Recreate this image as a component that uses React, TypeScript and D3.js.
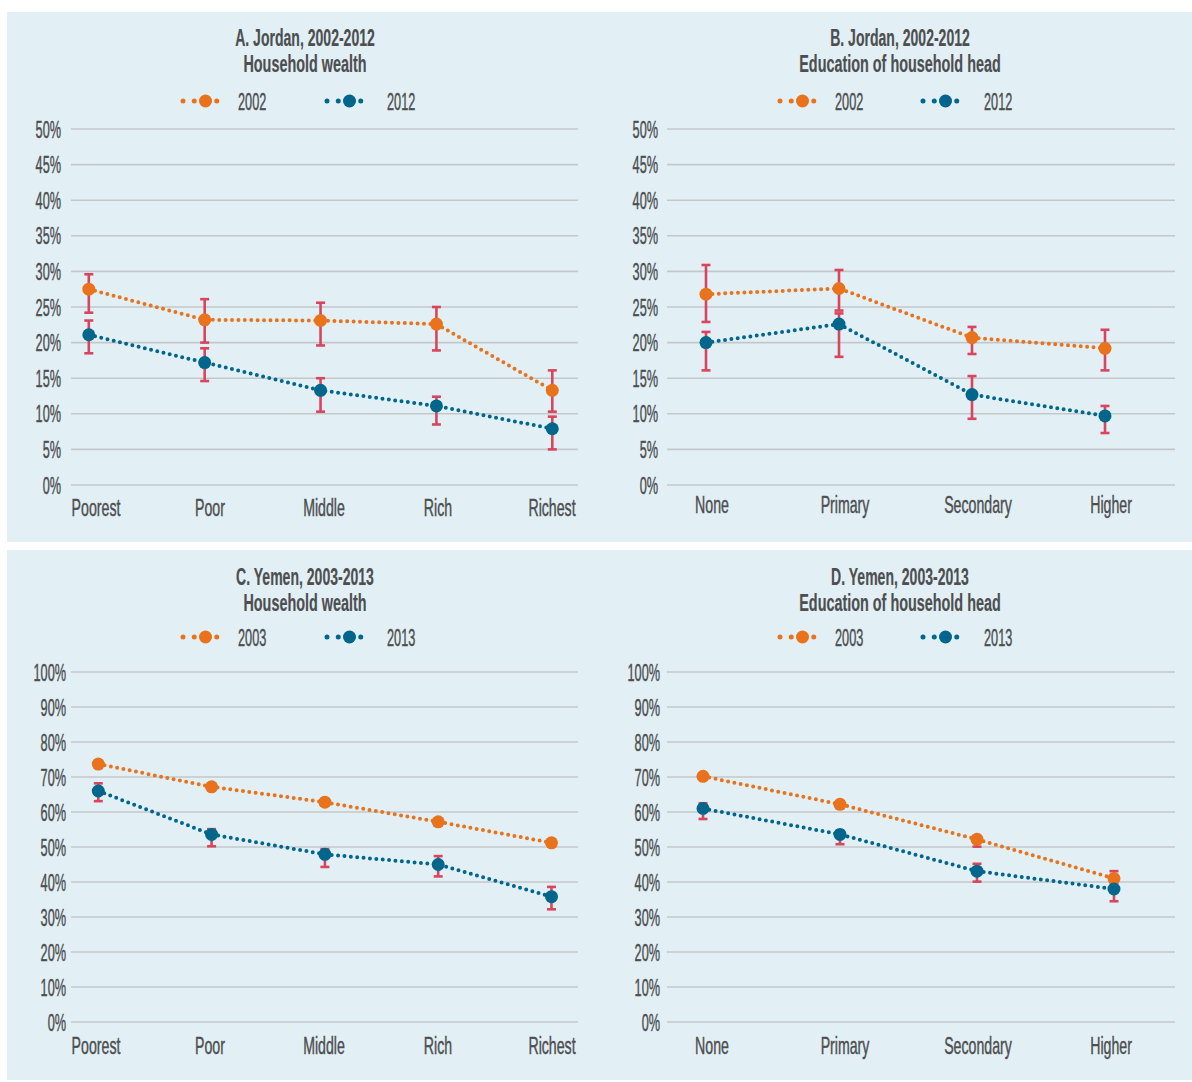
import React from "react";
import * as d3 from "d3";

// ---------- data ----------
const wealthCats = ["Poorest", "Poor", "Middle", "Rich", "Richest"];
const eduCats = ["None", "Primary", "Secondary", "Higher"];

const jordanYTicks = [0, 5, 10, 15, 20, 25, 30, 35, 40, 45, 50];
const yemenYTicks = [0, 10, 20, 30, 40, 50, 60, 70, 80, 90, 100];

const jordanYears = ["2002", "2012"];
const yemenYears = ["2003", "2013"];

const jordanWealth2002 = [27.5, 23.2, 23.1, 22.6, 13.3];
const jordanWealth2002Lo = [24.2, 20.0, 19.6, 18.9, 10.3];
const jordanWealth2002Hi = [29.6, 26.1, 25.6, 25.0, 16.1];
const jordanWealth2012 = [21.1, 17.2, 13.3, 11.1, 7.9];
const jordanWealth2012Lo = [18.5, 14.6, 10.3, 8.5, 5.0];
const jordanWealth2012Hi = [23.1, 19.2, 15.0, 12.4, 9.6];

const jordanEdu2002 = [26.8, 27.6, 20.7, 19.2];
const jordanEdu2002Lo = [22.9, 24.5, 18.4, 16.1];
const jordanEdu2002Hi = [30.9, 30.2, 22.2, 21.8];
const jordanEdu2012 = [20.0, 22.6, 12.7, 9.7];
const jordanEdu2012Lo = [16.1, 18.0, 9.3, 7.3];
const jordanEdu2012Hi = [21.5, 24.1, 15.3, 11.1];

const yemenWealth2003 = [73.7, 67.2, 62.8, 57.2, 51.2];
const yemenWealth2003Lo = [72.6, 66.2, 61.8, 56.1, 50.1];
const yemenWealth2003Hi = [74.6, 68.0, 63.6, 58.0, 52.0];
const yemenWealth2013 = [66.0, 53.6, 47.9, 45.0, 35.8];
const yemenWealth2013Lo = [63.1, 50.2, 44.3, 41.6, 32.2];
const yemenWealth2013Hi = [68.2, 55.1, 49.4, 47.4, 38.6];

const yemenEdu2003 = [70.2, 62.2, 52.2, 41.0];
const yemenEdu2003Lo = [69.4, 61.1, 50.1, 39.8];
const yemenEdu2003Hi = [70.8, 62.9, 53.1, 43.1];
const yemenEdu2013 = [61.0, 53.6, 43.1, 38.0];
const yemenEdu2013Lo = [58.0, 50.8, 40.1, 34.5];
const yemenEdu2013Hi = [62.5, 54.6, 45.2, 40.3];

// ---------- style ----------
const BG = "#e2f0f5";
const GRID = "#c3c7c9";
const ORANGE = "#e8731c";
const BLUE = "#00668c";
const ERR = "#d8455d";
const TEXT = "#4d4e50";
const FONT = "'Liberation Sans','Arial',sans-serif";

function T({ x, y, anchor = "middle", size = 24, weight = 400, sx = 0.59, children }: any) {
  return (
    <text
      transform={`translate(${x},${y}) scale(${sx},1)`}
      textAnchor={anchor}
      fontSize={size}
      fontWeight={weight}
      fontFamily={FONT}
      fill={TEXT}
      stroke={TEXT}
      strokeWidth={weight >= 700 ? 0.2 : 0.45}
    >
      {children}
    </text>
  );
}

type Series = { v: number[]; lo: number[]; hi: number[]; color: string };

function Panel(props: any) {
  const { title1, title2, years, cats, series, ticks, yMax, L } = props;
  const y = d3.scaleLinear().domain([0, yMax]).range([L.y0, L.y1]);
  const xp = d3.scalePoint<string>().domain(cats).range([L.px0, L.px1]);
  const xl = d3.scalePoint<string>().domain(cats).range([L.lx0, L.lx1]);
  const line = d3
    .line<number>()
    .x((_, i) => xp(cats[i]) as number)
    .y((d) => y(d));
  const legColors = [ORANGE, BLUE];
  return (
    <g>
      <T x={L.titleX} y={L.titleY} size={24} weight={700} sx={0.585}>{title1}</T>
      <T x={L.titleX} y={L.titleY + 26} size={24} weight={700} sx={0.6}>{title2}</T>
      {years.map((yr: string, i: number) => (
        <g key={yr}>
          <line
            x1={L.legX[i]}
            x2={L.legX[i] + 45}
            y1={L.legY}
            y2={L.legY}
            stroke={legColors[i]}
            strokeWidth={5}
            strokeLinecap="round"
            strokeDasharray="0 11.25"
          />
          <circle cx={L.legX[i] + 22.5} cy={L.legY} r={6.5} fill={legColors[i]} />
          <T x={L.legT[i]} y={L.legY + 8.5} anchor="start" sx={0.53}>{yr}</T>
        </g>
      ))}
      {ticks.map((t: number) => (
        <g key={t}>
          <line x1={L.gx0} x2={L.gx1} y1={y(t)} y2={y(t)} stroke={GRID} strokeWidth={1.6} />
          <T x={L.yLabX} y={y(t) + 8.5} anchor="end" sx={0.53}>{t + "%"}</T>
        </g>
      ))}
      {cats.map((c: string) => (
        <T key={c} x={xl(c)} y={L.xLabY} sx={0.59}>{c}</T>
      ))}
      {series.map((s: Series, si: number) => (
        <g key={"e" + si}>
          {s.v.map((_, i) => {
            const cx = xp(cats[i]) as number;
            return (
              <g key={i}>
                <line x1={cx} x2={cx} y1={y(s.lo[i])} y2={y(s.hi[i])} stroke={ERR} strokeWidth={2.6} />
                <line x1={cx - 4.5} x2={cx + 4.5} y1={y(s.lo[i])} y2={y(s.lo[i])} stroke={ERR} strokeWidth={2.6} />
                <line x1={cx - 4.5} x2={cx + 4.5} y1={y(s.hi[i])} y2={y(s.hi[i])} stroke={ERR} strokeWidth={2.6} />
              </g>
            );
          })}
        </g>
      ))}
      {series.map((s: Series, si: number) => (
        <path
          key={"l" + si}
          d={line(s.v) as string}
          fill="none"
          stroke={s.color}
          strokeWidth={4}
          strokeLinecap="round"
          strokeDasharray="0 6.4"
        />
      ))}
      {series.map((s: Series, si: number) => (
        <g key={"p" + si}>
          {s.v.map((v, i) => (
            <circle key={i} cx={xp(cats[i]) as number} cy={y(v)} r={6.5} fill={s.color} />
          ))}
        </g>
      ))}
    </g>
  );
}

export default function App() {
  const LA = {
    y0: 485, y1: 129, gx0: 71, gx1: 578, px0: 88.8, px1: 552.3, lx0: 96, lx1: 552,
    yLabX: 61, xLabY: 516, titleX: 305, titleY: 46, legY: 101, legX: [183, 327], legT: [238, 387],
  };
  const LB = {
    y0: 485, y1: 129, gx0: 667, gx1: 1175, px0: 706, px1: 1105, lx0: 712, lx1: 1111,
    yLabX: 658, xLabY: 513, titleX: 900, titleY: 46, legY: 101, legX: [780, 923], legT: [835, 984],
  };
  const LC = {
    y0: 1022, y1: 672, gx0: 71, gx1: 578, px0: 98.3, px1: 551.5, lx0: 96, lx1: 552,
    yLabX: 66, xLabY: 1054, titleX: 305, titleY: 585, legY: 637, legX: [183, 327], legT: [238, 387],
  };
  const LD = {
    y0: 1022, y1: 672, gx0: 667, gx1: 1175, px0: 703, px1: 1114, lx0: 712, lx1: 1111,
    yLabX: 660, xLabY: 1054, titleX: 900, titleY: 585, legY: 637, legX: [780, 923], legT: [835, 984],
  };
  return (
    <svg
      width={1192}
      height={1082}
      style={{ position: "absolute", left: 0, top: 0, background: "#ffffff" }}
    >
      <rect x={7} y={12} width={1185} height={530} fill={BG} />
      <rect x={7} y={550} width={1185} height={530} fill={BG} />
      <Panel
        title1="A. Jordan, 2002-2012"
        title2="Household wealth"
        years={jordanYears}
        cats={wealthCats}
        ticks={jordanYTicks}
        yMax={50}
        L={LA}
        series={[
          { v: jordanWealth2002, lo: jordanWealth2002Lo, hi: jordanWealth2002Hi, color: ORANGE },
          { v: jordanWealth2012, lo: jordanWealth2012Lo, hi: jordanWealth2012Hi, color: BLUE },
        ]}
      />
      <Panel
        title1="B. Jordan, 2002-2012"
        title2="Education of household head"
        years={jordanYears}
        cats={eduCats}
        ticks={jordanYTicks}
        yMax={50}
        L={LB}
        series={[
          { v: jordanEdu2002, lo: jordanEdu2002Lo, hi: jordanEdu2002Hi, color: ORANGE },
          { v: jordanEdu2012, lo: jordanEdu2012Lo, hi: jordanEdu2012Hi, color: BLUE },
        ]}
      />
      <Panel
        title1="C. Yemen, 2003-2013"
        title2="Household wealth"
        years={yemenYears}
        cats={wealthCats}
        ticks={yemenYTicks}
        yMax={100}
        L={LC}
        series={[
          { v: yemenWealth2003, lo: yemenWealth2003Lo, hi: yemenWealth2003Hi, color: ORANGE },
          { v: yemenWealth2013, lo: yemenWealth2013Lo, hi: yemenWealth2013Hi, color: BLUE },
        ]}
      />
      <Panel
        title1="D. Yemen, 2003-2013"
        title2="Education of household head"
        years={yemenYears}
        cats={eduCats}
        ticks={yemenYTicks}
        yMax={100}
        L={LD}
        series={[
          { v: yemenEdu2003, lo: yemenEdu2003Lo, hi: yemenEdu2003Hi, color: ORANGE },
          { v: yemenEdu2013, lo: yemenEdu2013Lo, hi: yemenEdu2013Hi, color: BLUE },
        ]}
      />
    </svg>
  );
}
